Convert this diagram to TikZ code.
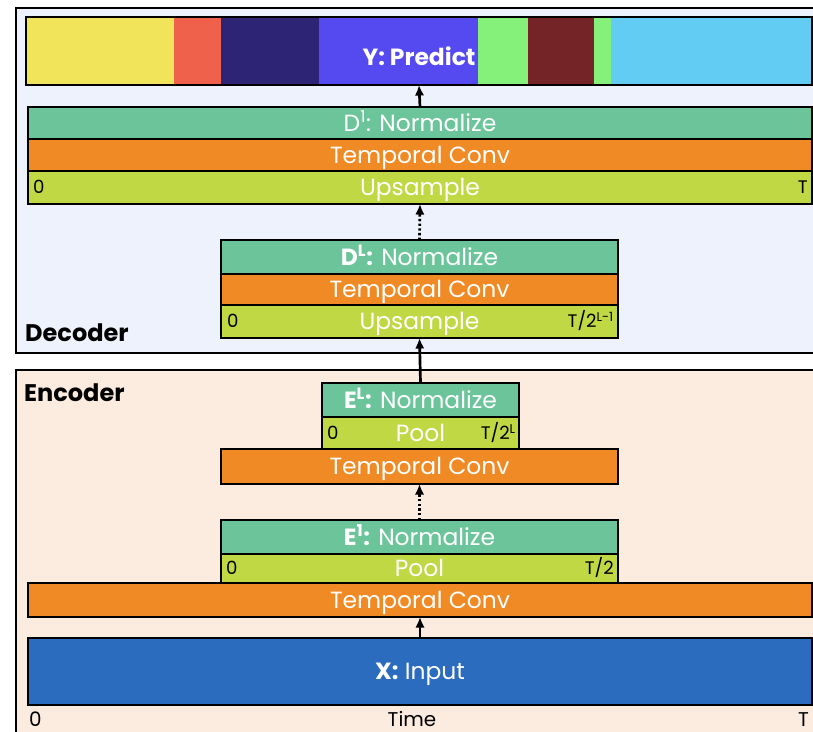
\documentclass[tikz,border=0pt]{standalone}
\usepackage{fontspec}
\setmainfont{Poppins}
\usetikzlibrary{arrows.meta}
\definecolor{decbg}{HTML}{EEF2FC}
\definecolor{encbg}{HTML}{FCEBDF}
\definecolor{normc}{HTML}{6CC59A}
\definecolor{convc}{HTML}{F08A24}
\definecolor{upc}{HTML}{C0D843}
\definecolor{inpc}{HTML}{2B6CBF}
\definecolor{sa}{HTML}{F2E45A}
\definecolor{sb}{HTML}{F0614C}
\definecolor{sc}{HTML}{2D2475}
\definecolor{sd}{HTML}{5549F0}
\definecolor{se}{HTML}{85F07A}
\definecolor{sf}{HTML}{742327}
\definecolor{sg}{HTML}{62CCF2}
\newdimen\pxu \pxu=0.03cm
\begin{document}
\begin{tikzpicture}[x=0.03cm,y=-0.03cm,
  panel/.style={draw=black, line width=2.4pt, inner sep=0pt, outer sep=0pt},
  bar/.style={draw=black, line width=1pt, inner sep=0pt, outer sep=0pt, text=white, font=\fontsize{20}{20}\selectfont, text height=14pt, text depth=0pt},
  seg/.style={inner sep=0pt, outer sep=0pt},
  small/.style={inner sep=0pt, text=black, font=\fontsize{17}{17}\selectfont, text height=12pt, text depth=0pt},
  smallin/.style={inner sep=0pt, text=black, font=\fontsize{15.5}{15.5}\selectfont, text height=10.8pt, text depth=0pt},
  lbl/.style={inner sep=0pt, text=black, font=\fontsize{20.5}{20.5}\selectfont\bfseries},
  arr/.style={line width=2.3pt, -{Latex[length=9pt,width=8pt]}},
  darr/.style={arr, dash pattern=on 2pt off 2pt}]
\useasboundingbox (0,0) rectangle (813,732);
\clip (0,0) rectangle (813,732);
% panels
\node[panel, fill=decbg, minimum width=800\pxu, minimum height=345\pxu] (dec) at (416,180.5) {};
\node[panel, fill=encbg, minimum width=800\pxu, minimum height=375\pxu] (enc) at (416,557.5) {};
\node[lbl, anchor=base west] (declbl) at (25,341) {Decoder};
\node[lbl, anchor=base west] (enclbl) at (24,401) {Encoder};
% prediction bar
\node[seg, fill=sa, minimum width=148\pxu, minimum height=68\pxu] (y1) at (100,51) {};
\node[seg, fill=sb, minimum width=47\pxu, minimum height=68\pxu] (y2) at (197.5,51) {};
\node[seg, fill=sc, minimum width=98\pxu, minimum height=68\pxu] (y3) at (270,51) {};
\node[seg, fill=sd, minimum width=159\pxu, minimum height=68\pxu] (y4) at (398.5,51) {};
\node[seg, fill=se, minimum width=50\pxu, minimum height=68\pxu] (y5) at (503,51) {};
\node[seg, fill=sf, minimum width=66\pxu, minimum height=68\pxu] (y6) at (561,51) {};
\node[seg, fill=se, minimum width=17\pxu, minimum height=68\pxu] (y7) at (602.5,51) {};
\node[seg, fill=sg, minimum width=201\pxu, minimum height=68\pxu] (y8) at (711.5,51) {};
\node[bar, minimum width=786\pxu, minimum height=68\pxu] (ybar) at (419,51) {};
\node[seg, text=white, font=\fontsize{20}{20}\selectfont\bfseries, text height=14pt, text depth=0pt] (ytxt) at (419,57) {Y: Predict};
% decoder D1
\node[bar, fill=normc, minimum width=784\pxu, minimum height=32\pxu] (d1n) at (420,123) {D\textsuperscript{1}: Normalize};
\node[bar, fill=convc, minimum width=784\pxu, minimum height=32\pxu] (d1c) at (420,155) {Temporal Conv};
\node[bar, fill=upc, minimum width=784\pxu, minimum height=33\pxu] (d1u) at (420,187.5) {Upsample};
\node[smallin, anchor=west] (d1u0) at ([xshift=5\pxu]d1u.west) {0};
\node[smallin, anchor=east] (d1uT) at ([xshift=-4\pxu]d1u.east) {T};
% decoder DL
\node[bar, fill=normc, minimum width=397\pxu, minimum height=34\pxu] (dLn) at (419.5,257) {\textbf{D\textsuperscript{L}:} Normalize};
\node[bar, fill=convc, minimum width=397\pxu, minimum height=31\pxu] (dLc) at (419.5,289.5) {Temporal Conv};
\node[bar, fill=upc, minimum width=397\pxu, minimum height=33\pxu] (dLu) at (419.5,321.5) {Upsample};
\node[smallin, anchor=west] (dLu0) at ([xshift=6\pxu]dLu.west) {0};
\node[smallin, anchor=east] (dLuT) at ([xshift=-4\pxu]dLu.east) {T/2\textsuperscript{L-1}};
% encoder EL
\node[bar, fill=normc, minimum width=197\pxu, minimum height=34\pxu] (eLn) at (420.5,400) {\textbf{E\textsuperscript{L}:} Normalize};
\node[bar, fill=upc, minimum width=197\pxu, minimum height=32\pxu] (eLp) at (420.5,433) {Pool};
\node[smallin, anchor=west] (eLp0) at ([xshift=5\pxu]eLp.west) {0};
\node[smallin, anchor=east] (eLpT) at ([xshift=-3\pxu]eLp.east) {T/2\textsuperscript{L}};
\node[bar, fill=convc, minimum width=397\pxu, minimum height=35\pxu] (eLc) at (419.5,466.5) {Temporal Conv};
% encoder E1
\node[bar, fill=normc, minimum width=397\pxu, minimum height=34\pxu] (e1n) at (419.5,537) {\textbf{E\textsuperscript{1}:} Normalize};
\node[bar, fill=upc, minimum width=397\pxu, minimum height=29\pxu] (e1p) at (419.5,568.5) {Pool};
\node[smallin, anchor=west] (e1p0) at ([xshift=5\pxu]e1p.west) {0};
\node[smallin, anchor=east] (e1pT) at ([xshift=-4\pxu]e1p.east) {T/2};
\node[bar, fill=convc, minimum width=784\pxu, minimum height=34\pxu] (e1c) at (420,600) {Temporal Conv};
% input
\node[bar, fill=inpc, minimum width=784\pxu, minimum height=67\pxu] (xin) at (420,671.5) {\textbf{X:} Input};
\node[small, anchor=base west] (t0) at (29,726) {0};
\node[small, anchor=base] (tl) at (412,726) {Time};
\node[small, anchor=base east] (tT) at (809,726) {T};
% arrows
\draw[arr] (d1n.north) -- (ybar.south);
\draw[darr] (dLn.north) -- (d1u.south);
\draw[arr] (eLn.north) -- (dLu.south);
\draw[darr] (e1n.north) -- (eLc.south);
\draw[arr] (xin.north) -- (e1c.south);
\end{tikzpicture}
\end{document}
